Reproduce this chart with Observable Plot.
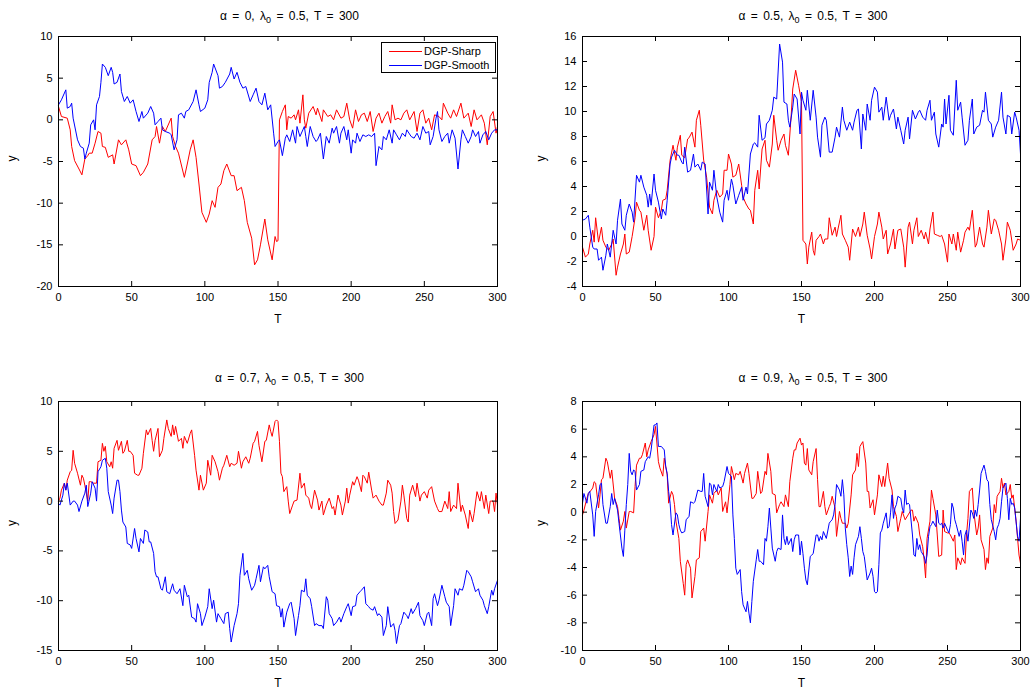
<!DOCTYPE html>
<html><head><meta charset="utf-8">
<script src="https://cdn.jsdelivr.net/npm/d3@7"></script>
<script src="https://cdn.jsdelivr.net/npm/@observablehq/plot@0.6"></script>
<style>
body{margin:0;background:#fff;font-family:"Liberation Sans",Arial,Helvetica,sans-serif;}
#wrap{position:relative;width:1030px;height:691px;overflow:hidden;}
.panel{position:absolute;}
.title{position:absolute;font-size:12px;line-height:12px;white-space:nowrap;transform:translateX(-50%);word-spacing:2px;color:#000;}
.title sub{font-size:9px;vertical-align:-3px;line-height:0;}
#legend{position:absolute;left:381px;top:42px;width:113px;height:29px;border:1px solid #000;background:#fff;font-size:11px;}
.lrow{position:absolute;left:0;height:14px;width:113px;}
.lline{position:absolute;left:7px;top:7px;width:33px;height:0;border-top:1px solid;}
.ltext{position:absolute;left:42px;top:0;line-height:14px;}
</style>
</head><body>
<div id="wrap"></div>
<script>
// ---- data: [T, y] readings per series ----
const sharp0 = [[0,1.6],[2,0.4],[6,0.2],[8,-1.2],[9,-3.2],[11,-4.9],[14,-5.9],[16,-6.6],[18,-4.7],[20,-4.3],[21,-4.0],[23,-4.0],[25,-2.8],[27,-1.4],[29,-1.6],[30,-3.2],[32,-3.3],[34,-4.5],[37,-4.2],[38,-5.3],[41,-2.4],[43,-3.0],[46,-2.4],[48,-3.6],[50,-5.3],[53,-5.5],[56,-6.7],[58,-6.3],[61,-5.3],[64,-2.4],[66,-2.0],[67,-0.8],[69,-2.8],[71,-0.8],[73,-1.4],[77,0.2],[78,-2.0],[80,-3.2],[82,-4.0],[86,-6.9],[88,-5.3],[90,-3.6],[92,-2.4],[94,-4.5],[96,-7.7],[98,-11.1],[101,-12.3],[103,-11.3],[105,-9.7],[107,-10.5],[109,-8.1],[111,-7.7],[113,-6.1],[115,-5.3],[118,-6.7],[120,-6.7],[122,-8.5],[125,-8.1],[127,-9.7],[129,-12.3],[132,-14.2],[134,-17.4],[136,-16.8],[138,-15.0],[141,-11.9],[143,-14.4],[146,-16.8],[148,-14.0],[149,-14.6],[150,-14.5],[151,0.0],[153,1.0],[155,1.8],[156,-1.2],[157,0.4],[159,0.2],[161,0.6],[162,0.0],[164,1.2],[165,-0.4],[167,3.0],[168,0.0],[169,-1.0],[171,0.8],[174,1.6],[176,0.6],[177,1.4],[180,-0.2],[181,1.2],[184,0.4],[186,0.6],[188,0.0],[190,1.2],[193,0.2],[195,0.4],[197,2.0],[199,0.0],[201,-1.0],[203,1.2],[205,-0.2],[207,0.6],[209,0.8],[211,-0.2],[213,1.0],[215,-1.4],[217,0.2],[219,0.8],[221,-0.4],[223,0.4],[225,1.0],[227,-0.4],[228,1.8],[230,0.0],[232,0.2],[234,0.0],[236,0.8],[238,1.2],[240,0.0],[243,1.0],[245,-1.4],[247,0.8],[249,1.2],[251,-0.4],[253,0.2],[255,-1.2],[257,0.6],[260,0.4],[262,0.0],[263,2.0],[266,0.8],[268,0.2],[270,1.2],[272,0.4],[275,2.0],[277,0.2],[280,0.8],[282,-0.8],[284,1.2],[286,0.0],[289,0.6],[291,-0.4],[293,-3.0],[295,0.4],[297,1.0],[299,-1.6],[300,-0.8]];
const smooth0 = [[0,1.8],[2,2.4],[5,3.6],[6,1.4],[8,1.6],[9,2.0],[10,0.2],[13,-2.4],[15,-3.2],[17,-3.4],[18,-4.7],[19,-4.0],[21,-2.8],[22,-0.6],[24,0.0],[25,-1.2],[26,1.8],[28,2.8],[29,4.5],[30,6.7],[32,6.3],[34,5.3],[36,6.3],[37,5.7],[38,4.3],[40,4.5],[42,5.5],[43,3.4],[45,2.2],[47,2.8],[49,2.0],[51,2.4],[53,1.0],[55,-0.2],[57,1.0],[58,0.2],[61,0.8],[63,1.6],[65,0.8],[66,-0.6],[68,-0.2],[70,0.2],[71,-1.2],[73,-1.4],[76,-1.6],[77,-1.8],[79,-3.6],[81,-2.4],[82,0.6],[84,0.8],[86,0.2],[87,1.0],[89,1.2],[92,2.2],[94,3.6],[96,1.8],[97,1.0],[100,1.4],[102,2.4],[103,4.5],[105,5.7],[106,6.7],[109,5.3],[110,3.8],[112,4.0],[114,4.5],[117,5.5],[118,6.3],[120,4.9],[122,5.7],[124,4.5],[126,3.8],[128,4.0],[131,2.2],[133,3.0],[135,3.8],[137,2.2],[139,1.8],[141,3.2],[143,1.2],[145,1.8],[147,-1.6],[148,-3.2],[150,-2.6],[151,-2.4],[153,-4.3],[155,-2.2],[156,-1.8],[158,-2.6],[160,-1.2],[162,-2.8],[163,-0.8],[165,-2.0],[167,-1.2],[168,-0.8],[169,-2.0],[170,-3.2],[172,-0.8],[174,-2.0],[176,-2.6],[177,-2.4],[179,-1.6],[181,-4.7],[183,-2.0],[185,-2.8],[187,-1.0],[188,-1.6],[190,-0.8],[192,-2.8],[193,-1.6],[195,-0.8],[197,-2.4],[198,-1.2],[200,-4.0],[201,-2.4],[203,-2.8],[204,-1.6],[206,-2.6],[208,-1.8],[210,-2.0],[212,-1.8],[214,-2.0],[216,-1.6],[217,-5.5],[219,-3.2],[221,-3.6],[222,-2.0],[224,-2.4],[226,-1.2],[228,-2.8],[229,-1.2],[231,-1.8],[233,-2.4],[235,-1.6],[237,-2.0],[238,-1.2],[241,-2.0],[243,-2.2],[245,-1.6],[247,-2.4],[249,-0.8],[251,-1.6],[253,-1.4],[254,-3.0],[256,-2.0],[258,0.2],[259,1.0],[260,-1.2],[262,-2.6],[264,-2.0],[266,-1.6],[267,-2.8],[269,-1.2],[271,-2.2],[273,-5.9],[275,-2.4],[276,-1.2],[278,-2.0],[280,-2.8],[282,-2.0],[283,-1.2],[285,-2.0],[287,-1.4],[288,-2.8],[290,-1.8],[292,-1.4],[294,-2.4],[296,-1.6],[298,-1.2],[300,-1.2]];
const sharp05 = [[0,-0.85],[2,-1.65],[4,-1.4],[5,-0.6],[7,0.5],[8,-0.45],[9,1.5],[11,-0.45],[13,0.75],[14,-0.3],[16,-0.85],[18,-1.1],[20,-0.6],[21,-0.2],[23,-3.1],[24,-2.45],[26,-1.4],[28,-0.6],[29,0.2],[30,-1.4],[32,-1.25],[34,0],[36,1.5],[37,2.75],[39,2.1],[40,1.95],[42,0.5],[44,1.7],[45,0.5],[47,-1.1],[49,0],[50,2.35],[52,1.5],[54,2.1],[55,2.9],[57,3.0],[58,3.7],[60,6.1],[62,7.3],[64,6.1],[65,7.15],[67,8.1],[68,6.5],[70,6.3],[72,7.8],[73,7.9],[75,8.35],[77,7.15],[78,9.3],[80,10.1],[81,8.9],[83,6.1],[85,4.75],[87,2.35],[89,1.8],[90,2.9],[92,3.7],[94,3.15],[96,3.4],[97,5.3],[99,5.3],[100,6.6],[102,5.8],[103,4.75],[105,4.9],[107,5.8],[109,4.1],[110,3.15],[112,2.6],[114,2.2],[115,2.1],[117,1.0],[118,3.7],[120,5.3],[121,3.8],[123,7.0],[125,7.7],[126,6.1],[128,5.55],[130,7.4],[131,9.7],[133,7.7],[134,6.9],[136,7.7],[138,8.2],[139,7.3],[141,6.5],[143,9.8],[144,11.8],[146,13.3],[148,12.1],[150,10.8],[151,-0.3],[153,-0.6],[154,-2.2],[155,-0.85],[157,0.35],[158,-1.1],[159,-1.5],[160,-0.3],[162,0],[163,0.2],[165,-0.6],[166,-0.2],[168,-0.2],[169,1.5],[171,0.1],[173,0.75],[174,0],[175,0.6],[177,1.7],[178,0.2],[180,-0.3],[182,-0.85],[183,-1.9],[185,0.6],[187,0],[189,0.75],[190,0],[192,1.0],[193,1.95],[195,0.1],[197,-1.0],[198,-1.8],[200,0],[202,1.0],[203,1.95],[205,0.75],[206,-0.2],[208,0.5],[209,-1.4],[211,-0.6],[213,0.6],[214,-1.0],[216,0.5],[218,0.6],[220,-0.85],[221,-2.45],[223,0.75],[224,1.15],[226,-0.6],[227,0.5],[229,1.5],[230,0],[232,0.5],[234,-0.2],[235,0.35],[237,-0.6],[238,0.6],[240,1.95],[241,0.2],[243,0.1],[245,0],[246,0.1],[248,-0.6],[250,-2.05],[251,0.2],[253,-0.6],[254,0.2],[256,-1.1],[257,0.35],[259,-1.25],[261,-0.3],[262,0.35],[264,0.75],[265,0.5],[267,2.1],[269,-0.85],[270,-0.6],[272,0.75],[274,-0.6],[275,-0.85],[277,0.75],[278,2.1],[280,0.2],[282,1.4],[283,1.3],[285,0.5],[287,-0.6],[288,-1.9],[290,-0.2],[291,1.15],[293,0.5],[295,-1.1],[297,-0.6],[298,-0.2],[300,-0.3]];
const smooth05 = [[0,1.3],[2,1.4],[4,1.7],[5,0.75],[7,-0.85],[8,-1.0],[10,-1.0],[11,-1.9],[13,-1.65],[14,-2.7],[16,-1.5],[17,-0.6],[19,-1.65],[20,-0.6],[21,0.5],[23,-0.6],[24,1.3],[26,3.0],[27,1.0],[29,0.5],[30,1.7],[32,2.6],[34,1.95],[35,1.15],[37,4.9],[39,4.35],[40,4.9],[42,3.95],[44,3.3],[45,2.35],[46,3.4],[47,2.5],[49,5.0],[50,3.7],[52,2.75],[54,1.4],[55,2.2],[57,1.7],[58,2.9],[60,5.8],[61,6.35],[63,6.9],[65,6.5],[66,6.5],[68,5.95],[69,5.8],[70,7.15],[72,5.15],[74,5.3],[76,6.6],[77,5.55],[79,5.8],[81,5.3],[82,5.95],[84,5.8],[86,1.8],[87,4.35],[89,3.7],[90,5.3],[92,3.15],[94,1.95],[96,1.15],[97,2.9],[99,3.7],[100,2.9],[102,4.6],[103,4.1],[105,2.6],[107,3.3],[109,3.95],[110,2.9],[112,3.95],[113,3.4],[115,6.6],[117,7.4],[118,7.5],[120,7.15],[121,9.7],[123,7.7],[125,7.9],[126,9.0],[128,9.3],[130,10.1],[131,11.15],[133,11.0],[135,15.4],[137,13.95],[138,10.75],[140,10.6],[141,9.3],[142,8.75],[144,10.35],[145,11.4],[147,11.0],[149,8.2],[150,11.55],[151,10.9],[153,10.1],[154,11.7],[156,9.3],[158,11.7],[160,9.55],[161,7.95],[163,6.35],[164,8.9],[166,9.55],[167,9.3],[169,6.75],[171,6.75],[173,7.95],[174,8.75],[176,7.95],[178,10.35],[179,9.3],[181,8.5],[183,9.15],[185,8.5],[186,9.15],[188,10.1],[189,10.2],[191,7.0],[192,9.8],[194,8.5],[195,10.6],[197,9.3],[198,10.9],[200,11.95],[202,11.55],[203,9.95],[205,10.35],[206,9.3],[208,11.15],[210,9.3],[211,9.7],[213,10.2],[215,8.6],[216,9.55],[218,8.5],[220,7.4],[221,8.5],[223,9.55],[224,7.8],[226,10.1],[228,9.4],[230,9.95],[231,10.1],[233,9.55],[235,9.3],[236,10.1],[238,10.9],[239,9.3],[241,9.95],[242,8.2],[244,7.15],[246,9.0],[247,8.75],[248,11.0],[249,9.0],[251,11.3],[252,8.5],[254,8.1],[256,12.5],[257,10.1],[259,10.75],[260,9.55],[262,7.3],[264,7.7],[265,9.3],[267,11.0],[268,8.2],[270,8.75],[272,8.9],[274,10.1],[275,9.95],[276,11.55],[278,9.3],[280,9.0],[281,7.95],[283,8.75],[285,9.3],[287,11.55],[288,9.55],[290,8.2],[291,9.7],[293,9.55],[294,8.2],[296,9.95],[297,9.55],[299,8.5],[300,6.6]];
const sharp07 = [[0,0],[1,0.3],[2,1.1],[4,1.8],[5,1.1],[6,2.1],[8,2.95],[9,3.1],[10,5.1],[11,3.8],[13,2.8],[15,1.6],[16,2.6],[17,2.3],[18,1.6],[20,0],[21,1.95],[22,1.95],[24,1.8],[26,1.8],[27,3.95],[29,4.1],[30,5.8],[31,5.0],[32,5.5],[33,3.95],[35,3.45],[36,3.95],[37,3.3],[38,5.3],[40,6.1],[41,5.1],[43,6.0],[44,4.8],[45,5.0],[47,6.1],[48,5.0],[49,5.0],[51,4.6],[52,2.8],[54,2.6],[55,2.6],[57,3.3],[58,4.8],[60,7.15],[61,6.65],[63,7.3],[64,6.1],[65,5.0],[66,6.1],[68,7.3],[69,4.45],[71,5.1],[72,6.3],[74,8.15],[75,7.3],[77,6.5],[78,7.65],[79,6.65],[80,7.5],[82,6.0],[84,6.3],[85,5.3],[86,6.5],[88,5.8],[90,6.8],[91,7.15],[93,4.6],[94,3.1],[96,1.1],[97,2.6],[99,1.1],[101,1.8],[102,4.1],[104,2.6],[105,4.6],[107,3.95],[109,2.95],[110,2.1],[112,3.3],[113,3.6],[115,4.6],[117,3.45],[118,3.8],[120,3.6],[122,3.8],[123,5.0],[125,3.3],[126,3.95],[128,4.45],[130,3.8],[131,4.3],[133,5.8],[134,6.0],[136,7.0],[137,5.6],[139,3.95],[141,6.0],[142,6.1],[144,7.65],[145,7.0],[146,6.5],[148,8.0],[149,8.15],[150,8.0],[151,6.0],[152,2.8],[153,2.45],[154,0.95],[156,1.45],[157,0],[158,-1.25],[160,-0.4],[161,0],[163,0.1],[165,2.8],[166,1.3],[168,1.8],[169,0.6],[171,0.3],[172,-0.4],[173,-0.75],[175,1.1],[177,0.1],[178,-0.9],[180,0],[181,-1.4],[183,-0.4],[185,0.3],[187,-0.75],[188,-0.55],[189,-1.4],[191,0.6],[193,-0.4],[194,-1.4],[196,0],[197,1.3],[198,-0.2],[199,0.6],[201,1.95],[202,1.6],[204,2.45],[205,2.1],[207,0.95],[208,2.6],[209,2.45],[211,1.8],[212,2.9],[214,1.1],[215,0.3],[217,0.6],[219,0],[221,-0.4],[222,-0.4],[224,0.8],[225,2.1],[227,1.6],[228,0.8],[229,-1.05],[230,-2.25],[232,-1.9],[234,0],[235,1.6],[236,0.6],[238,-1.75],[239,-2.1],[240,0.6],[242,1.6],[244,0.45],[245,1.8],[247,0],[248,0.6],[250,0.95],[252,0.3],[253,1.1],[255,1.45],[257,0],[259,-0.75],[260,-1.05],[262,-1.05],[264,0],[266,-0.75],[267,0.95],[268,-1.05],[270,-0.4],[272,-0.75],[273,1.8],[275,-1.05],[276,-0.4],[278,-1.4],[279,-2.1],[280,-2.75],[281,-0.9],[283,-2.1],[284,-1.25],[286,0.95],[288,0],[289,0.95],[291,-0.75],[292,0.6],[294,-1.25],[295,0],[297,0],[298,-1.05],[299,0.8],[300,-0.4]];
const smooth07 = [[0,-0.25],[1,-0.4],[3,0.6],[4,1.8],[5,1.1],[6,1.8],[8,-0.4],[10,0],[11,0],[13,-0.4],[14,-1.05],[16,0],[18,0.8],[19,1.6],[20,-0.55],[22,0.8],[23,1.95],[25,1.3],[26,0],[27,2.95],[29,3.45],[30,4.1],[32,4.3],[33,3.3],[34,0.95],[36,-0.4],[37,-1.25],[38,0.3],[40,2.1],[41,2.1],[42,0.95],[43,-0.9],[44,-2.1],[46,-2.6],[47,-4.25],[49,-4.4],[50,-4.75],[52,-2.75],[53,-3.75],[55,-5.1],[56,-3.75],[58,-4.25],[59,-2.9],[61,-3.1],[62,-4.1],[63,-4.1],[65,-5.25],[66,-7.1],[67,-7.6],[68,-7.6],[70,-8.8],[71,-8.95],[73,-7.6],[74,-9.1],[76,-9.3],[78,-8.3],[79,-8.95],[81,-9.3],[83,-8.8],[85,-10.5],[86,-8.45],[88,-9.6],[89,-9.45],[91,-11.65],[93,-11.8],[94,-12.15],[95,-10.3],[97,-11.3],[98,-12.5],[100,-11.65],[102,-10.6],[103,-8.8],[105,-10.8],[106,-9.95],[108,-12.15],[109,-11.3],[111,-11.8],[113,-12.3],[114,-11.3],[116,-11.15],[117,-12.8],[118,-14.15],[120,-12.5],[122,-11.3],[123,-10.3],[124,-7.45],[126,-5.25],[127,-7.45],[129,-6.95],[130,-7.8],[132,-8.95],[134,-8.45],[135,-7.8],[137,-6.45],[138,-8.1],[140,-6.6],[141,-6.8],[143,-6.45],[144,-7.6],[146,-9.1],[148,-9.3],[149,-10.5],[151,-10.6],[152,-11.65],[153,-10.8],[154,-12.65],[156,-11.15],[158,-10.3],[159,-10.15],[161,-11.8],[162,-13.5],[164,-11.5],[165,-10.5],[166,-8.95],[168,-9.1],[169,-7.8],[170,-9.45],[172,-9.8],[173,-10.6],[175,-12.5],[176,-12.3],[178,-12.5],[180,-12.5],[181,-12.8],[183,-9.6],[184,-9.95],[185,-11.3],[187,-11.8],[188,-12.5],[190,-12.15],[192,-11.65],[193,-12.15],[195,-11.3],[197,-10.6],[198,-10.3],[200,-11.5],[201,-10.6],[203,-10.5],[204,-9.45],[206,-9.1],[207,-8.95],[209,-8.6],[210,-10.3],[212,-10.6],[213,-10.8],[215,-10.95],[216,-10.6],[218,-11.5],[219,-11.3],[221,-11.65],[222,-13.5],[224,-12.5],[225,-10.6],[227,-12.65],[229,-12.3],[230,-13.0],[231,-14.3],[233,-12.5],[234,-12.3],[236,-11.15],[238,-11.5],[239,-11.8],[241,-10.8],[242,-11.3],[244,-10.8],[246,-10.15],[247,-11.5],[249,-12.0],[250,-12.5],[252,-11.3],[253,-11.15],[255,-12.5],[256,-9.8],[257,-9.3],[259,-10.5],[260,-9.95],[262,-8.45],[264,-9.6],[265,-10.15],[267,-10.6],[268,-12.5],[270,-10.5],[271,-8.8],[273,-9.45],[274,-8.8],[276,-8.95],[277,-8.45],[279,-6.95],[280,-7.1],[282,-7.6],[283,-8.1],[285,-9.1],[287,-8.8],[288,-9.45],[290,-9.95],[291,-10.5],[293,-11.3],[294,-10.6],[296,-8.95],[297,-9.45],[298,-8.8],[300,-7.95]];
const sharp09 = [[0,-0.2],[1,0.15],[3,1.0],[4,1.35],[6,1.6],[7,1.75],[8,2.2],[9,2.1],[11,0.3],[12,1.25],[13,2.35],[14,2.45],[16,3.9],[17,3.65],[19,2.45],[20,3.05],[22,1.0],[24,0.4],[25,-0.45],[26,-1.3],[28,-0.65],[29,0.05],[30,-1.15],[32,0.05],[33,0.05],[35,-0.05],[36,1.85],[37,3.4],[39,3.9],[40,3.9],[41,4.15],[43,5.0],[44,4.0],[45,4.5],[47,5.1],[49,5.6],[50,6.2],[52,3.65],[53,3.2],[55,2.6],[56,3.9],[58,2.7],[59,0.65],[61,1.5],[62,1.25],[63,0.55],[64,-0.65],[66,-1.9],[67,-3.55],[69,-5.15],[70,-6.0],[71,-3.8],[72,-3.45],[74,-4.05],[75,-6.2],[77,-4.65],[78,-3.45],[80,-3.3],[81,-1.4],[83,-1.15],[84,-2.1],[86,0.05],[87,1.25],[89,0.65],[90,1.35],[92,1.6],[93,1.25],[95,1.75],[96,0.05],[98,0.75],[99,-0.05],[101,2.0],[102,3.3],[104,2.35],[105,2.8],[107,2.7],[108,2.95],[110,2.1],[111,2.8],[113,3.55],[114,2.8],[116,1.0],[117,1.0],[119,1.35],[120,2.95],[122,1.35],[123,1.5],[125,2.95],[126,2.7],[127,4.25],[129,2.95],[130,1.35],[132,1.25],[133,-0.05],[135,0.55],[136,0.75],[138,0.4],[139,1.25],[141,0.4],[142,2.2],[144,3.9],[145,4.5],[146,4.5],[147,5.0],[149,5.35],[150,4.85],[151,5.0],[152,3.55],[153,3.4],[154,4.6],[155,3.05],[157,2.7],[158,3.65],[160,4.6],[161,2.35],[162,0.4],[163,0.4],[165,1.5],[166,0.4],[167,-0.2],[169,0.4],[170,0.65],[171,1.15],[173,0.3],[174,-1.75],[176,0.05],[177,-0.45],[178,-0.8],[180,-0.8],[181,-1.15],[182,-0.8],[184,1.25],[185,2.7],[187,3.05],[188,4.25],[189,3.3],[190,4.75],[192,5.1],[194,3.55],[195,1.5],[196,1.5],[197,0.3],[199,0.9],[200,-0.2],[202,1.25],[203,2.7],[205,1.85],[206,2.6],[207,1.85],[209,3.55],[210,2.45],[212,1.6],[213,0.4],[215,-0.3],[216,-1.4],[218,-0.45],[219,0.05],[221,-0.55],[223,-0.2],[225,0.15],[226,0.15],[227,-0.65],[228,-0.3],[230,-0.8],[231,-1.65],[233,-2.5],[234,-3.45],[235,-4.75],[236,-1.9],[238,-0.65],[239,1.6],[240,1.0],[242,-0.2],[243,-1.65],[244,-3.2],[246,-3.1],[247,0.15],[248,-1.4],[250,-1.5],[251,-1.5],[252,-1.65],[254,-2.1],[255,-1.65],[256,-4.15],[257,-3.3],[259,-3.8],[260,-3.3],[262,-3.7],[263,-1.65],[264,-0.45],[265,1.5],[267,1.75],[268,0.05],[270,-1.65],[271,-1.15],[272,-0.2],[273,-2.0],[275,-2.7],[276,-4.15],[277,-3.3],[278,-3.7],[279,-1.75],[281,-1.15],[282,0.55],[283,-0.05],[284,1.15],[286,1.5],[287,2.45],[288,1.75],[289,2.1],[290,1.25],[292,1.5],[293,2.0],[294,1.0],[295,1.25],[297,-0.65],[298,-1.9],[299,-3.1],[300,-3.7]];
const smooth09 = [[0,0.65],[1,1.35],[3,0.65],[4,1.35],[5,1.5],[7,-0.2],[8,-1.75],[9,0.05],[11,1.25],[12,2.0],[13,2.1],[14,0.55],[16,-0.8],[17,-0.8],[19,0.4],[20,1.35],[21,0.55],[22,1.0],[24,0.15],[25,-0.8],[27,-2.6],[28,-3.2],[29,-1.3],[30,0.55],[31,2.0],[32,4.25],[33,2.95],[34,2.7],[35,3.05],[36,2.95],[37,1.6],[39,2.0],[40,2.95],[42,3.05],[43,3.65],[45,4.0],[46,3.9],[47,4.5],[49,6.3],[50,6.3],[51,6.45],[52,4.75],[54,4.75],[56,4.5],[57,3.3],[58,2.8],[59,1.5],[60,0.65],[61,-0.9],[62,-1.65],[64,-0.05],[65,-0.2],[66,-0.9],[67,-1.3],[68,-1.5],[70,-1.4],[71,-0.55],[73,-0.3],[74,0.75],[76,0.65],[77,0.75],[79,1.6],[81,1.5],[82,1.5],[83,2.8],[84,1.15],[86,0.4],[87,2.1],[88,2.0],[89,1.25],[90,2.0],[92,1.5],[93,2.0],[94,1.75],[96,1.85],[97,2.2],[99,3.3],[100,2.8],[102,2.6],[103,-0.2],[104,-1.9],[105,-4.05],[106,-4.5],[108,-4.15],[109,-5.75],[110,-6.7],[112,-7.2],[113,-6.45],[114,-7.3],[115,-8.0],[116,-6.45],[117,-5.0],[119,-3.45],[120,-2.7],[121,-3.55],[122,-3.55],[124,-3.8],[125,-1.9],[126,-2.1],[127,-1.05],[128,0.3],[129,-1.15],[130,-2.6],[132,-3.55],[133,-2.85],[134,-2.6],[136,-2.7],[137,-0.2],[138,-1.9],[139,-2.35],[140,-1.75],[141,-2.35],[143,-1.9],[144,-2.85],[145,-2.0],[146,-1.65],[148,-1.65],[149,-3.1],[150,-2.1],[151,-3.0],[152,-4.05],[153,-4.9],[154,-5.25],[156,-3.2],[157,-3.1],[158,-3.0],[160,-1.65],[161,-1.65],[162,-2.1],[163,-1.75],[164,-2.0],[165,-1.4],[167,-1.9],[169,-0.8],[170,-0.65],[171,-0.55],[172,-0.2],[173,0.55],[174,2.0],[176,1.6],[177,1.15],[178,2.35],[179,1.25],[180,-1.15],[181,-2.35],[182,-3.3],[183,-4.65],[184,-3.9],[185,-4.5],[186,-3.3],[187,-2.35],[189,-1.75],[190,-1.05],[191,-1.9],[192,-2.85],[193,-3.2],[194,-4.05],[195,-4.9],[197,-4.4],[198,-4.05],[199,-4.65],[200,-5.75],[201,-5.85],[202,-5.75],[203,-3.8],[204,-1.5],[205,-1.3],[206,-0.8],[208,-0.05],[209,-1.15],[210,-1.05],[211,-0.05],[212,1.25],[213,-0.45],[214,0.3],[215,0.55],[216,1.15],[218,1.0],[219,0.3],[220,-0.05],[221,1.6],[222,0.55],[223,0.65],[224,0.55],[226,-1.65],[227,-3.1],[228,-3.2],[229,-1.9],[230,-2.7],[231,-2.35],[232,-2.85],[234,-3.2],[235,-3.7],[236,-3.1],[237,-1.75],[238,-1.05],[239,-0.9],[240,-0.65],[242,-1.05],[243,0.15],[244,-0.8],[245,-0.9],[246,-0.8],[247,-1.15],[248,-0.8],[250,-1.3],[251,-1.5],[252,-0.9],[253,0.65],[254,0.3],[255,-0.55],[256,-0.9],[258,-1.75],[259,-1.3],[260,-2.1],[261,-3.1],[262,-1.65],[263,-1.3],[264,-2.1],[266,0.15],[267,-0.05],[268,-0.45],[269,0.15],[270,-0.3],[271,0.55],[272,1.6],[273,2.8],[275,3.4],[276,2.95],[277,2.35],[278,2.2],[279,0.55],[280,-0.55],[282,-1.4],[283,-2.0],[284,-1.15],[285,-0.9],[286,-0.45],[287,0.75],[288,1.75],[290,2.1],[291,1.0],[292,-0.55],[293,1.0],[294,0.55],[295,0.65],[296,0.3],[298,-1.75],[299,-2.1],[300,-0.45]];

// ---- labels and ticks ----
const alphas = ["0", "0.5", "0.7", "0.9"];
const seriesNames = ["DGP-Sharp", "DGP-Smooth"];
const seriesColors = ["#ff0000", "#0000ff"];
const xTicks = [0, 50, 100, 150, 200, 250, 300];
const yTicks0 = [-20, -15, -10, -5, 0, 5, 10];
const yTicks05 = [-4, -2, 0, 2, 4, 6, 8, 10, 12, 14, 16];
const yTicks07 = [-15, -10, -5, 0, 5, 10];
const yTicks09 = [-10, -8, -6, -4, -2, 0, 2, 4, 6, 8];

const panels = [
  {alpha: alphas[0], sharp: sharp0, smooth: smooth0, yTicks: yTicks0, left: 0, top: 0, h: 345, ml: 58, mr: 18, mt: 36, mb: 59, ylab: -46, titleTop: 10, legend: true},
  {alpha: alphas[1], sharp: sharp05, smooth: smooth05, yTicks: yTicks05, left: 515, top: 0, h: 345, ml: 67, mr: 10, mt: 36, mb: 59, ylab: -41, titleTop: 10},
  {alpha: alphas[2], sharp: sharp07, smooth: smooth07, yTicks: yTicks07, left: 0, top: 345, h: 346, ml: 58, mr: 18, mt: 56, mb: 41, ylab: -46, titleTop: 372},
  {alpha: alphas[3], sharp: sharp09, smooth: smooth09, yTicks: yTicks09, left: 515, top: 345, h: 346, ml: 67, mr: 10, mt: 56, mb: 41, ylab: -41, titleTop: 372}
];

const wrap = document.getElementById("wrap");
const W = 515, TL = 5;
const fmt = d => String(d);

for (const p of panels) {
  const pw = W - p.ml - p.mr, ph = p.h - p.mt - p.mb;
  const yd = [p.yTicks[0], p.yTicks[p.yTicks.length - 1]];
  const chart = Plot.plot({
    width: W, height: p.h,
    marginLeft: p.ml, marginRight: p.mr, marginTop: p.mt, marginBottom: p.mb,
    style: {fontFamily: "'Liberation Sans', Arial, sans-serif", fontSize: "11px", color: "#000", background: "transparent", overflow: "visible"},
    x: {domain: [0, 300], label: null},
    y: {domain: yd, label: null},
    marks: [
      Plot.line(p.sharp, {x: d => d[0], y: d => d[1], stroke: seriesColors[0], strokeWidth: 1}),
      Plot.line(p.smooth, {x: d => d[0], y: d => d[1], stroke: seriesColors[1], strokeWidth: 1}),
      Plot.tickX(xTicks, {x: d => d, insetTop: ph - TL, stroke: "#000"}),
      Plot.tickX(xTicks, {x: d => d, insetBottom: ph - TL, stroke: "#000"}),
      Plot.tickY(p.yTicks, {y: d => d, insetRight: pw - TL, stroke: "#000"}),
      Plot.tickY(p.yTicks, {y: d => d, insetLeft: pw - TL, stroke: "#000"}),
      Plot.frame({stroke: "#000"}),
      Plot.axisX(xTicks, {tickSize: 0, tickPadding: 7, tickFormat: fmt, label: null, fontSize: 11}),
      Plot.axisY(p.yTicks, {tickSize: 0, tickPadding: 6, tickFormat: fmt, label: null, fontSize: 11}),
      Plot.text(["T"], {text: d => d, frameAnchor: "bottom", dy: 36, fontSize: 12}),
      Plot.text(["y"], {text: d => d, frameAnchor: "left", dx: p.ylab, rotate: -90, fontSize: 12})
    ]
  });
  const holder = document.createElement("div");
  holder.className = "panel";
  holder.style.left = p.left + "px";
  holder.style.top = p.top + "px";
  holder.appendChild(chart);
  wrap.appendChild(holder);

  const t = document.createElement("div");
  t.className = "title";
  t.style.left = (p.left + p.ml + pw / 2 + 12) + "px";
  t.style.top = p.titleTop + "px";
  t.innerHTML = "α = " + p.alpha + ", λ<sub>0</sub> = 0.5, T = 300";
  wrap.appendChild(t);

  if (p.legend) {
    const lg = document.createElement("div");
    lg.id = "legend";
    seriesNames.forEach((name, i) => {
      const row = document.createElement("div");
      row.className = "lrow";
      row.style.top = (1 + i * 14) + "px";
      const ln = document.createElement("div");
      ln.className = "lline";
      ln.style.borderTopColor = seriesColors[i];
      const tx = document.createElement("div");
      tx.className = "ltext";
      tx.textContent = name;
      row.appendChild(ln); row.appendChild(tx);
      lg.appendChild(row);
    });
    wrap.appendChild(lg);
  }
}
</script>
</body></html>
